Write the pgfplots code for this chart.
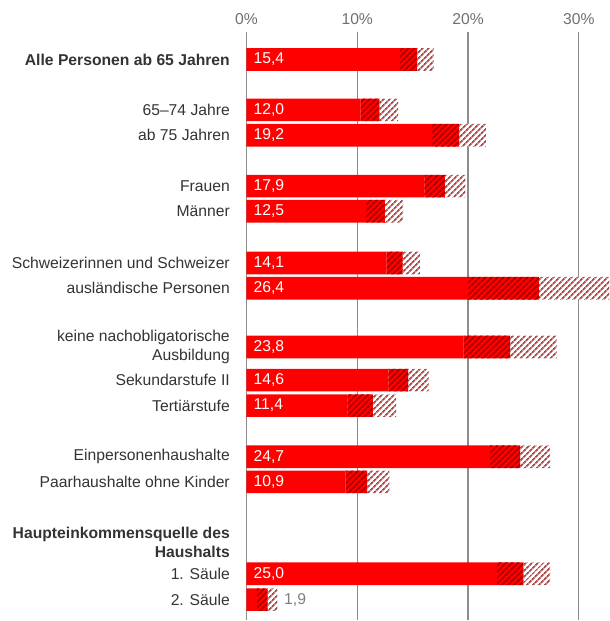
\documentclass[border=0pt]{standalone}
\usepackage{pgfplots}
\pgfplotsset{compat=1.18}
\usepackage{pgfplotstable}
\usetikzlibrary{patterns.meta}
\usepackage{fontspec}
\setmainfont{Liberation Sans}
\definecolor{barred}{HTML}{FF0000}
\definecolor{darkstripe}{HTML}{A00000}
\definecolor{lightstripe}{HTML}{B04A4A}
\definecolor{labelgray}{HTML}{333333}
\definecolor{tickgray}{HTML}{707070}
\definecolor{gridgray}{HTML}{8C8C8C}
\definecolor{valgray}{HTML}{808080}

% y = vertical position (px from top), a = lower CI bound, b = value - lower, c = upper - value
\pgfplotstableread{
y     a     b     c
59.5  13.85 1.55  1.5
110.0 10.3  1.7   1.7
135.3 16.75 2.45  2.4
186.3 16.05 1.85  1.85
211.5 10.8  1.7   1.65
263.3 12.65 1.45  1.55
288.5 20.0  6.4   6.4
347.3 19.6  4.2   4.2
380.5 12.8  1.8   1.85
406.0 9.1   2.3   2.1
457.2 22.0  2.7   2.7
482.3 8.95  1.95  2.0
574.3 22.6  2.4   2.4
600.2 0.95  0.95  0.9
}\data

\begin{document}
\begin{tikzpicture}
\begin{axis}[
  scale only axis, width=363.3pt, height=589pt,
  xmin=0, xmax=32.76, ymin=32, ymax=621, y dir=reverse,
  xbar stacked, bar width=22.7pt,
  axis line style={draw=none}, major tick length=0pt,
  xtick={0,10,20,30}, xticklabels={0\%,10\%,20\%,30\%},
  xticklabel pos=upper,
  xticklabel style={font=\fontsize{15.7}{18}\selectfont, text=tickgray, inner sep=0pt, anchor=south, yshift=7.5pt},
  xmajorgrids, grid style={gridgray, line width=1.2pt},
  ytick={59.5,110,135.3,186.3,211.5,263.3,288.5,347.3,380.5,406,457.2,482.3,542.5,574.3,600.2},
  yticklabels={{\bfseries Alle Personen ab 65 Jahren},{65–74 Jahre},{ab 75 Jahren},{Frauen},{Männer},{Schweizerinnen und Schweizer},{ausländische Personen},{keine nachobligatorische\\Ausbildung},{Sekundarstufe II},{Tertiärstufe},{Einpersonenhaushalte},{Paarhaushalte ohne Kinder},{\bfseries Haupteinkommensquelle des\\\bfseries Haushalts},{1. Säule},{2. Säule}},
  yticklabel style={font=\fontsize{15.7}{19}\selectfont, text=labelgray, align=right, inner sep=0pt, xshift=-16.5pt},
]
\addplot[fill=barred, draw=none] table[x=a, y=y] {\data};
\addplot[fill=barred, draw=none, postaction={pattern={Lines[angle=45,distance=4pt,line width=1.9pt]}, pattern color=darkstripe}] table[x=b, y=y] {\data};
\addplot[fill=white, draw=none, postaction={pattern={Lines[angle=45,distance=4pt,line width=1.9pt]}, pattern color=lightstripe}] table[x=c, y=y] {\data};

\coordinate (v1) at (axis cs:0,59.5);
\coordinate (v2) at (axis cs:0,110);
\coordinate (v3) at (axis cs:0,135.3);
\coordinate (v4) at (axis cs:0,186.3);
\coordinate (v5) at (axis cs:0,211.5);
\coordinate (v6) at (axis cs:0,263.3);
\coordinate (v7) at (axis cs:0,288.5);
\coordinate (v8) at (axis cs:0,347.3);
\coordinate (v9) at (axis cs:0,380.5);
\coordinate (v10) at (axis cs:0,406);
\coordinate (v11) at (axis cs:0,457.2);
\coordinate (v12) at (axis cs:0,482.3);
\coordinate (v13) at (axis cs:0,574.3);
\coordinate (v14) at (axis cs:2.8,600.2);
\end{axis}
\tikzset{vb/.style={anchor=west, inner sep=0pt, font=\fontsize{15.7}{18}\selectfont},
         vl/.style={vb, xshift=7pt, text=white}}
\node[vl] at (v1) {15,4};
\node[vl] at (v2) {12,0};
\node[vl] at (v3) {19,2};
\node[vl] at (v4) {17,9};
\node[vl] at (v5) {12,5};
\node[vl] at (v6) {14,1};
\node[vl] at (v7) {26,4};
\node[vl] at (v8) {23,8};
\node[vl] at (v9) {14,6};
\node[vl] at (v10) {11,4};
\node[vl] at (v11) {24,7};
\node[vl] at (v12) {10,9};
\node[vl] at (v13) {25,0};
\node[vb, text=valgray, xshift=6.5pt] at (v14) {1,9};
\path (current axis.south west) ++(-246.7pt,0) coordinate (bbA);
\path (current axis.north east) ++(0,32pt) coordinate (bbB);
\end{tikzpicture}
\end{document}
